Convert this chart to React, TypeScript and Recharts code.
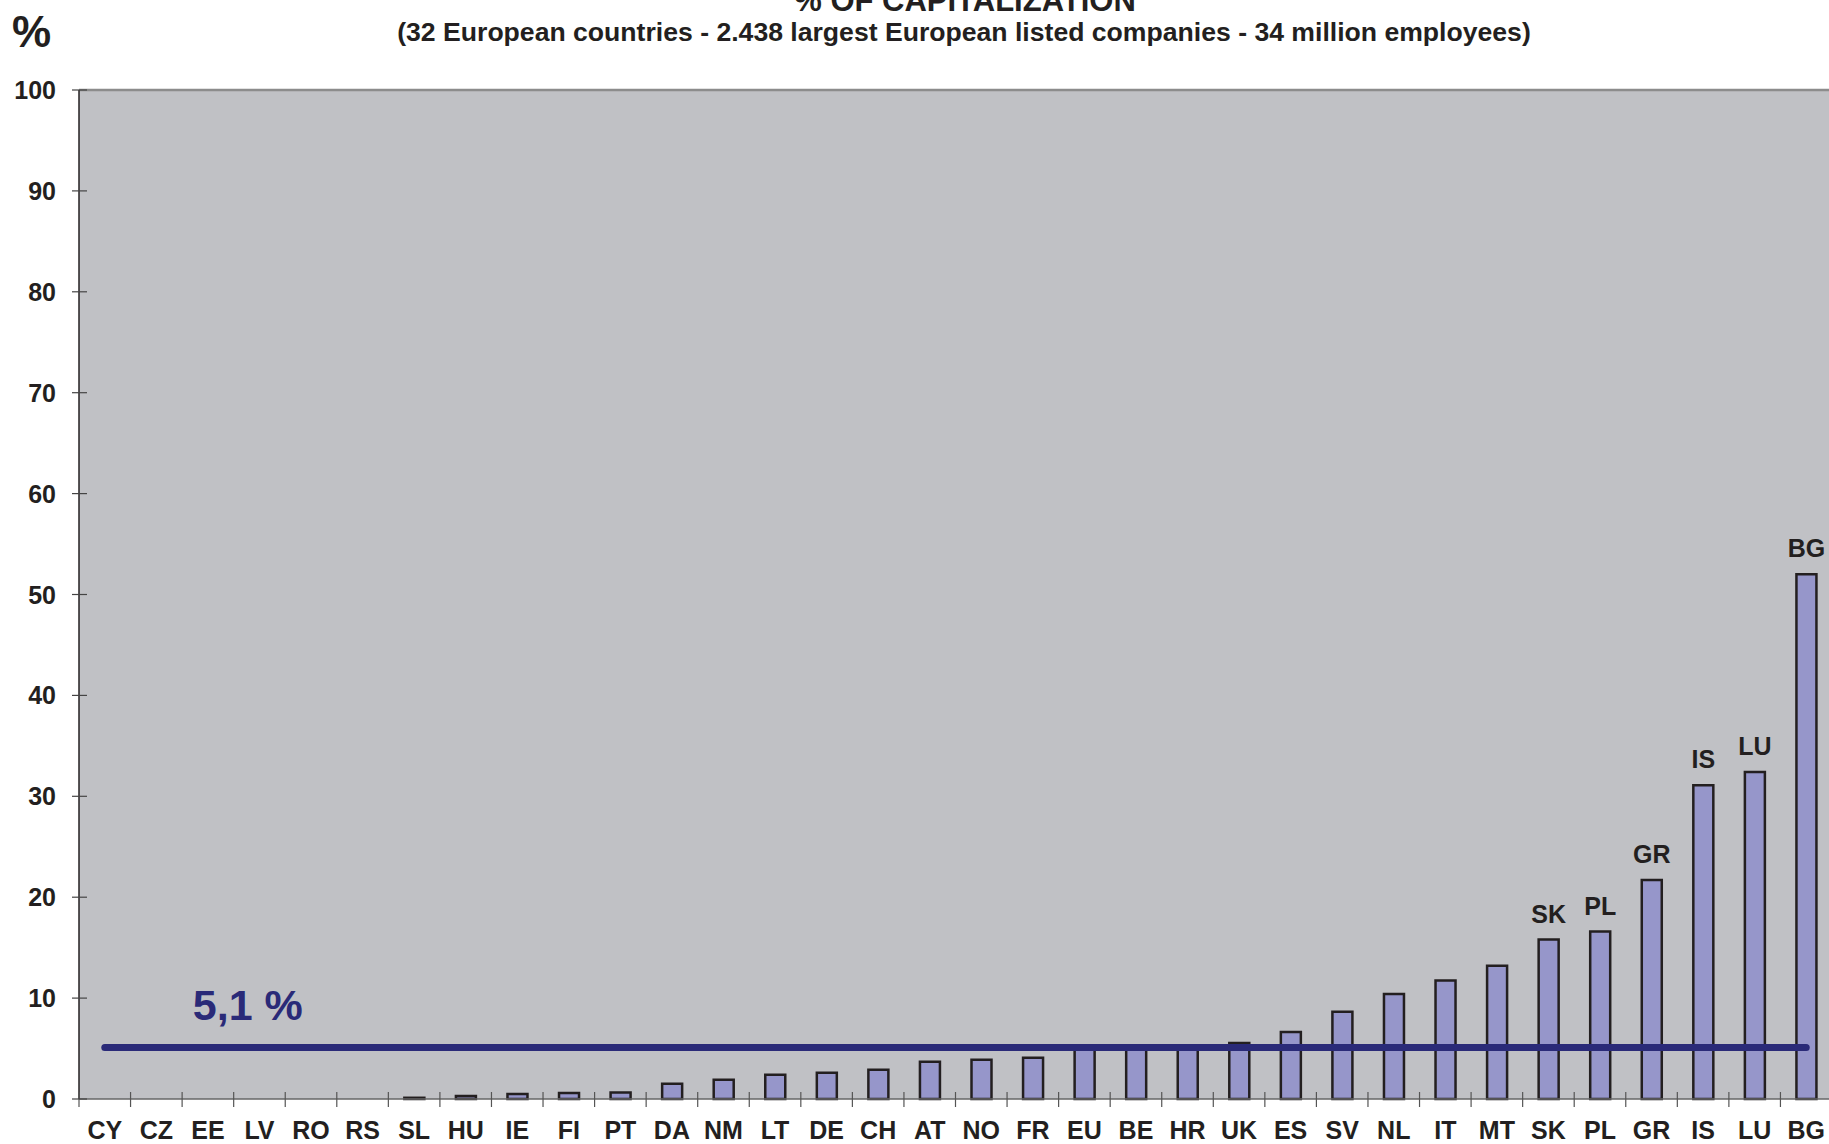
import { Bar, BarChart, CartesianGrid, LabelList, ReferenceLine, XAxis, YAxis } from "recharts"

const countries = [
  "CY", "CZ", "EE", "LV", "RO", "RS", "SL", "HU", "IE", "FI", "PT", "DA", "NM", "LT", "DE", "CH", "AT",
  "NO", "FR", "EU", "BE", "HR", "UK", "ES", "SV", "NL", "IT", "MT", "SK", "PL", "GR", "IS", "LU", "BG",
]
const capitalization = [
  0, 0, 0, 0, 0, 0, 0.12, 0.3, 0.5, 0.6, 0.65, 1.5, 1.9, 2.4, 2.6, 2.9, 3.7,
  3.9, 4.1, 5.0, 5.0, 5.0, 5.55, 6.65, 8.65, 10.4, 11.75, 13.2, 15.8, 16.6, 21.7, 31.1, 32.4, 52.0,
]
const labelled = ["SK", "PL", "GR", "IS", "LU", "BG"]
const yTicks = [0, 10, 20, 30, 40, 50, 60, 70, 80, 90, 100]
const average = 5.1

const data = countries.map((name, i) => ({ name, value: capitalization[i] }))

const W = 1829
const H = 1144
const AXIS_LEFT = 79
const RIGHT = -3
const PLOT_W = W - AXIS_LEFT - RIGHT
const band = PLOT_W / countries.length

const INK = "#231f20"
const NAVY = "#2a2a78"
const FONT = "'Liberation Sans', Arial, sans-serif"

function YTick({ x, y, payload }: any) {
  return (
    <g>
      <line x1={x - 7} x2={x + 8} y1={y} y2={y} stroke="#444" strokeWidth={1.2} />
      <text x={x - 23} y={y + 9} textAnchor="end" fontFamily={FONT} fontWeight="bold" fontSize={25} fill={INK}>
        {payload.value}
      </text>
    </g>
  )
}

function XTick({ x, y, payload }: any) {
  const bx = x - band / 2
  return (
    <g>
      <line x1={bx} x2={bx} y1={y - 7} y2={y + 8} stroke="#555" strokeWidth={1.2} />
      <text x={x} y={y + 40} textAnchor="middle" fontFamily={FONT} fontWeight="bold" fontSize={25} fill={INK}>
        {payload.value}
      </text>
    </g>
  )
}

function TopLabel({ x, y, width, value }: any) {
  if (!labelled.includes(value)) return null
  return (
    <text x={x + width / 2} y={y - 17} textAnchor="middle" fontFamily={FONT} fontWeight="bold" fontSize={25} fill={INK}>
      {value}
    </text>
  )
}

function AverageLabel({ viewBox }: any) {
  if (!viewBox) return null
  return (
    <text x={viewBox.x + 88} y={viewBox.y - 28} fontFamily={FONT} fontWeight="bold" fontSize={43} fill={NAVY}>
      5,1 %
    </text>
  )
}

export default function App() {
  return (
    <div style={{ position: "relative", width: W, height: H, background: "#fff", overflow: "hidden" }}>
      <style>{`body{margin:0}`}</style>
      <BarChart width={W} height={H} data={data} margin={{ top: 90, right: RIGHT, bottom: 0, left: 0 }} barSize={20}>
        <CartesianGrid horizontal={false} vertical={false} fill="#c0c1c5" fillOpacity={1} />
        <XAxis
          dataKey="name"
          height={45}
          tickSize={0}
          tickMargin={0}
          tickLine={false}
          interval={0}
          axisLine={{ stroke: "#666", strokeWidth: 1.5 }}
          tick={<XTick />}
        />
        <YAxis
          width={AXIS_LEFT}
          domain={[0, 100]}
          ticks={yTicks}
          tickSize={0}
          tickMargin={0}
          tickLine={false}
          axisLine={{ stroke: INK, strokeWidth: 1.5 }}
          tick={<YTick />}
        />
        <ReferenceLine y={100} stroke="#8c8c8c" strokeWidth={2.5} />
        <Bar dataKey="value" fill="#9696ca" stroke={INK} strokeWidth={2.5} isAnimationActive={false}>
          <LabelList dataKey="name" content={<TopLabel />} />
        </Bar>
        <ReferenceLine
          segment={[
            { x: countries[0], y: average },
            { x: countries[countries.length - 1], y: average },
          ]}
          stroke={NAVY}
          strokeWidth={7}
          strokeLinecap="round"
          label={<AverageLabel />}
        />
      </BarChart>
      <svg width={W} height={H} style={{ position: "absolute", left: 0, top: 0, pointerEvents: "none" }}>
        <text x={965} y={11} textAnchor="middle" fontFamily={FONT} fontWeight="bold" fontSize={31} fill={INK}>
          % OF CAPITALIZATION
        </text>
        <text x={964} y={41} textAnchor="middle" fontFamily={FONT} fontWeight="bold" fontSize={26.6} fill={INK}>
          (32 European countries - 2.438 largest European listed companies - 34 million employees)
        </text>
        <text x={12} y={47} fontFamily={FONT} fontWeight="bold" fontSize={44} fill={INK}>
          %
        </text>
      </svg>
    </div>
  )
}
